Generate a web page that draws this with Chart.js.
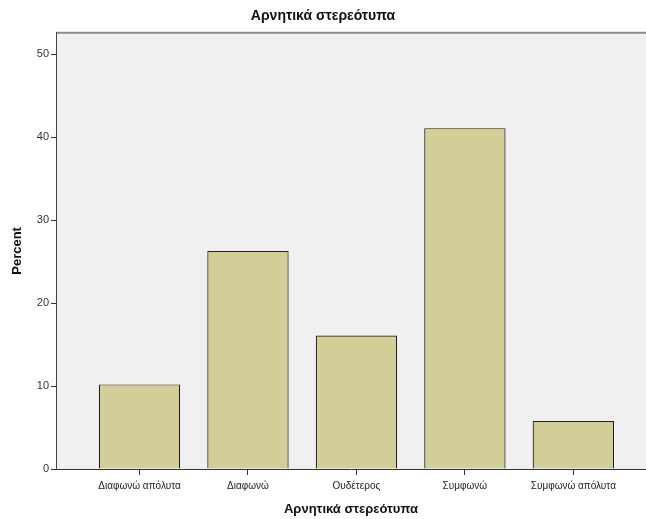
<!DOCTYPE html>
<html>
<head>
<meta charset="utf-8">
<script src="https://cdn.jsdelivr.net/npm/chart.js@4"></script>
<style>
  html, body { margin: 0; padding: 0; background: #fff; }
  #wrap { width: 646px; height: 519px; }
</style>
</head>
<body>
<div id="wrap"><canvas id="chart" width="646" height="519"></canvas></div>
<script>
const categories = ['Διαφωνώ απόλυτα', 'Διαφωνώ', 'Ουδέτερος', 'Συμφωνώ', 'Συμφωνώ απόλυτα'];
const percent = [10.2, 26.3, 16.1, 41.1, 5.8];
const yTicks = [0, 10, 20, 30, 40, 50];

const FONT = 'Liberation Sans, Arial, sans-serif';

// grey plot background + top frame line
const plotBg = {
    id: 'plotBg',
    beforeDraw(chart) {
        const a = chart.chartArea;
        const ctx = chart.ctx;
        ctx.save();
        ctx.fillStyle = '#f0f0f0';
        ctx.fillRect(a.left, a.top, a.right - a.left, a.bottom - a.top);
        ctx.strokeStyle = '#8a8a8a';
        ctx.lineWidth = 2;
        ctx.beginPath();
        ctx.moveTo(a.left, a.top);
        ctx.lineTo(a.right, a.top);
        ctx.stroke();
        ctx.restore();
    }
};

new Chart(document.getElementById('chart'), {
    type: 'bar',
    data: {
        datasets: [{
            data: categories.map((c, i) => ({x: i, y: percent[i]})),
            backgroundColor: '#d3ce97',
            borderColor: '#1e1e1e',
            borderWidth: 1.2,
            categoryPercentage: 1,
            barPercentage: 0.75
        }]
    },
    options: {
        responsive: false,
        animation: false,
        layout: {padding: 0},
        plugins: {
            legend: {display: false},
            tooltip: {enabled: false},
            title: {
                display: true,
                text: 'Αρνητικά στερεότυπα',
                color: '#111',
                font: {family: FONT, size: 14, weight: 'bold'},
                padding: {top: 8, bottom: 8}
            }
        },
        scales: {
            x: {
                type: 'linear',
                offset: false,
                min: -0.77,
                max: 4.67,
                afterBuildTicks: s => { s.ticks = categories.map((c, i) => ({value: i})); },
                afterFit: s => { s.height = 50; },
                ticks: {
                    callback: v => categories[v],
                    color: '#222',
                    font: {family: FONT, size: 10},
                    padding: 5,
                    maxRotation: 0,
                    autoSkip: false
                },
                grid: {offset: false, drawOnChartArea: false, tickLength: 6, color: '#333', tickWidth: 1},
                border: {display: true, color: '#333', width: 1},
                title: {
                    display: true,
                    text: 'Αρνητικά στερεότυπα',
                    color: '#111',
                    font: {family: FONT, size: 13, weight: 'bold'},
                    padding: {top: 0, bottom: 2}
                }
            },
            y: {
                min: 0,
                max: 52.6,
                afterBuildTicks: s => { s.ticks = yTicks.map(v => ({value: v})); },
                afterFit: s => { s.width = 56; },
                ticks: {
                    color: '#333',
                    font: {family: FONT, size: 11},
                    padding: 2
                },
                grid: {drawOnChartArea: false, tickLength: 5, color: '#333', tickWidth: 1},
                border: {display: true, color: '#444', width: 1},
                title: {
                    display: true,
                    text: 'Percent',
                    color: '#111',
                    font: {family: FONT, size: 13, weight: 'bold'},
                    padding: {top: 10, bottom: 0}
                }
            }
        }
    },
    plugins: [plotBg]
});
</script>
</body>
</html>
